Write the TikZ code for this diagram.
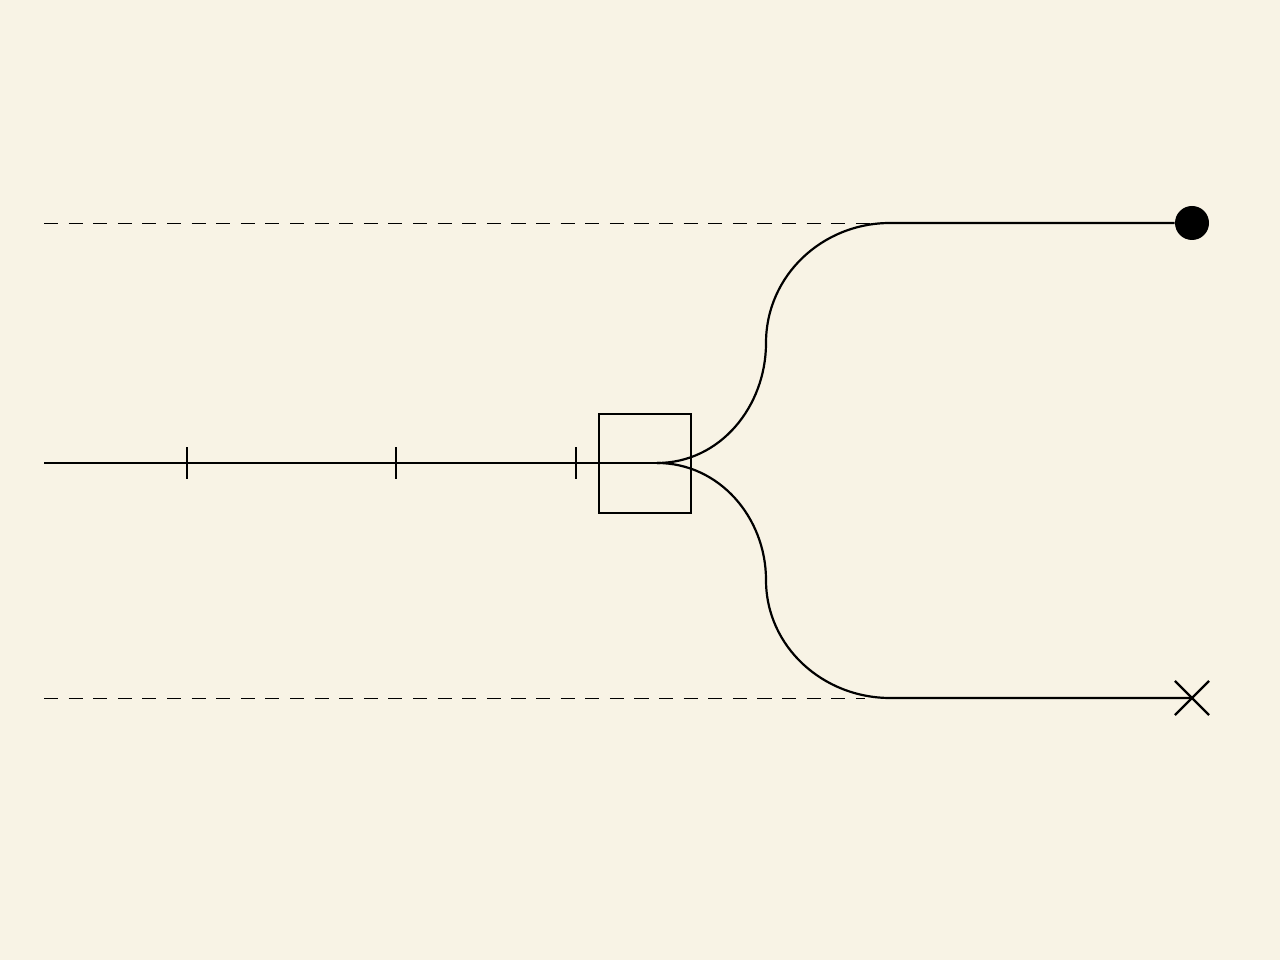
\documentclass[tikz,border=0pt]{standalone}
\usetikzlibrary{shapes.misc}
\definecolor{paper}{HTML}{F8F3E5}
\tikzset{
    wire/.style={line width=1.25pt},
    guide/.style={line width=0.5pt, dash pattern=on 8pt off 6pt},
}
\begin{document}
\begin{tikzpicture}
        \fill[paper] (0,0) rectangle (25.6,19.2);
        \useasboundingbox (0,0) rectangle (25.6,19.2);
        \coordinate (src) at (0.88, 9.94);
        \coordinate (fork) at (13.14, 9.94);
        \node[draw, wire, minimum width=1.84cm, minimum height=1.98cm] at (12.9, 9.93) (splitter) {};
        \coordinate (upmid) at (15.32, 12.34);
        \coordinate (upbend) at (17.8, 14.74);
        \coordinate (lowmid) at (15.32, 7.6);
        \coordinate (lowbend) at (17.8, 5.24);
        \node[circle, fill, inner sep=0pt, minimum size=0.68cm] at (23.84, 14.74) (sink) {};
        \node[cross out, draw, wire, inner sep=0pt, minimum size=0.64cm] at (23.84, 5.24) (cut) {};
        \coordinate (uptop) at (0.88, 14.74);
        \coordinate (upend) at (17.4, 14.74);
        \coordinate (lowtop) at (0.88, 5.24);
        \coordinate (lowend) at (17.3, 5.24);
        \draw[wire] (src) -- (fork);
        \foreach \x in {3.74, 7.92, 11.52}
            \draw[wire] (\x, 9.62) -- (\x, 10.26);
        \draw[wire] (fork) to[out=0, in=-90] (upmid) to[out=90, in=180] (upbend) -- (sink);
        \draw[wire] (fork) to[out=0, in=90] (lowmid) to[out=-90, in=180] (lowbend) -- (cut.center);
        \draw[guide] (uptop) -- (upend);
        \draw[guide] (lowtop) -- (lowend);
    \end{tikzpicture}
\end{document}
